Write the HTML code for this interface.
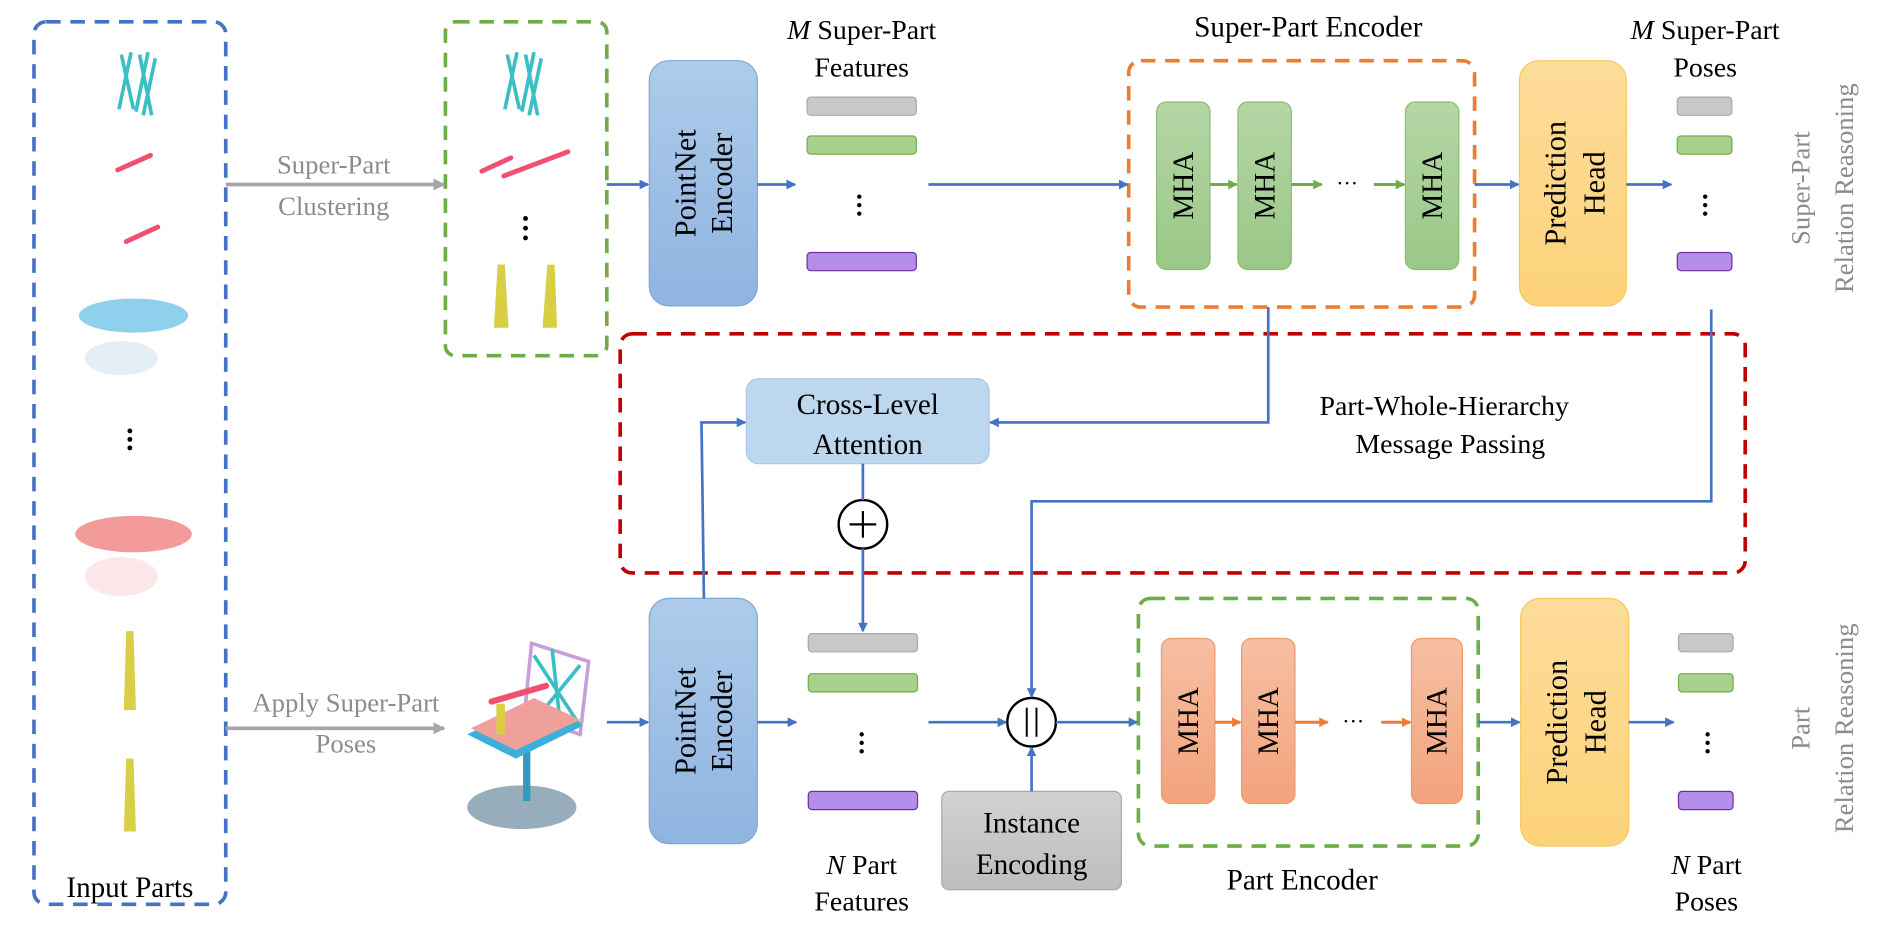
<!DOCTYPE html>
<html><head><meta charset="utf-8"><style>
html,body{margin:0;padding:0;background:#fff;}
svg{display:block}
text{font-family:"Liberation Serif",serif;}
</style></head><body>
<svg width="1903" height="931" viewBox="0 0 1568 767" preserveAspectRatio="none" xmlns="http://www.w3.org/2000/svg">
<defs>
<linearGradient id="gb" x1="0" y1="0" x2="0" y2="1"><stop offset="0" stop-color="#aecbea"/><stop offset="1" stop-color="#8fb4e0"/></linearGradient>
<linearGradient id="gy" x1="0" y1="0" x2="0" y2="1"><stop offset="0" stop-color="#fddc9a"/><stop offset="1" stop-color="#fdd37a"/></linearGradient>
<linearGradient id="gg" x1="0" y1="0" x2="0" y2="1"><stop offset="0" stop-color="#b5d6a6"/><stop offset="1" stop-color="#9ac787"/></linearGradient>
<linearGradient id="go" x1="0" y1="0" x2="0" y2="1"><stop offset="0" stop-color="#f6bfa3"/><stop offset="1" stop-color="#f2a37c"/></linearGradient>
<linearGradient id="ggr" x1="0" y1="0" x2="0" y2="1"><stop offset="0" stop-color="#d2d2d2"/><stop offset="1" stop-color="#bdbdbd"/></linearGradient>
<marker id="ab" markerWidth="8" markerHeight="8" refX="7" refY="4" orient="auto" markerUnits="userSpaceOnUse"><path d="M0,0 L8,4 L0,8 z" fill="#4472c4"/></marker>
<marker id="ag" markerWidth="8" markerHeight="8" refX="7" refY="4" orient="auto" markerUnits="userSpaceOnUse"><path d="M0,0 L8,4 L0,8 z" fill="#70ad47"/></marker>
<marker id="ao" markerWidth="8" markerHeight="8" refX="7" refY="4" orient="auto" markerUnits="userSpaceOnUse"><path d="M0,0 L8,4 L0,8 z" fill="#ed7d31"/></marker>
<marker id="agr" markerWidth="10" markerHeight="10" refX="9" refY="5" orient="auto" markerUnits="userSpaceOnUse"><path d="M0,0 L10,5 L0,10 z" fill="#a6a6a6"/></marker>
</defs>

<rect x="28" y="18" width="158" height="727" rx="10" fill="none" stroke="#4472c4" stroke-width="3" stroke-dasharray="12,8"/>
<rect x="367" y="18" width="133" height="275" rx="8" fill="none" stroke="#70ad47" stroke-width="3" stroke-dasharray="12,8"/>
<rect x="930" y="50" width="285" height="203" rx="10" fill="none" stroke="#ed7d31" stroke-width="3" stroke-dasharray="12,8"/>
<rect x="511" y="275" width="927" height="197" rx="10" fill="none" stroke="#c00000" stroke-width="3" stroke-dasharray="12,8"/>
<rect x="938" y="493" width="280" height="204" rx="10" fill="none" stroke="#70ad47" stroke-width="3" stroke-dasharray="12,8"/>

<g stroke="#3bbfc4" stroke-width="3" fill="none">
<path d="M100,45 L110,90 M108,43 L98,90 M115,45 L125,95 M122,43 L112,92 M128,48 L118,95"/>
<path d="M418,45 L428,90 M426,43 L416,90 M433,45 L443,95 M440,43 L430,92 M446,48 L436,95"/>
</g>
<g stroke="#f05070" stroke-width="4" stroke-linecap="round">
<line x1="97" y1="140" x2="124" y2="128"/>
<line x1="104" y1="199" x2="130" y2="187"/>
<line x1="397" y1="141" x2="421" y2="130"/>
<line x1="415" y1="145" x2="468" y2="125"/>
</g>
<ellipse cx="110" cy="260" rx="45" ry="14" fill="#8fd0ec"/>
<ellipse cx="100" cy="295" rx="30" ry="14" fill="#e4eef5"/>
<ellipse cx="110" cy="440" rx="48" ry="15" fill="#f39a9a"/>
<ellipse cx="100" cy="475" rx="30" ry="16" fill="#fbe7e9"/>
<path d="M104,520 L110,520 L112,585 L102,585 z" fill="#d9cf45"/>
<path d="M104,625 L110,625 L112,685 L102,685 z" fill="#d9cf45"/>
<path d="M410,218 L416,218 L419,270 L407,270 z" fill="#d9cf45"/>
<path d="M451,218 L457,218 L459,270 L447,270 z" fill="#d9cf45"/>
<g fill="#000"><circle cx="107" cy="355" r="2"/><circle cx="107" cy="362" r="2"/><circle cx="107" cy="369" r="2"/>
<circle cx="433" cy="180" r="2"/><circle cx="433" cy="188" r="2"/><circle cx="433" cy="196" r="2"/></g>
<ellipse cx="430" cy="665" rx="45" ry="18" fill="#6c8aa0" opacity="0.7"/>
<rect x="431" y="610" width="6" height="50" fill="#3399c0"/>
<polygon points="438,530 485,545 478,605 432,590" fill="none" stroke="#c8a0d8" stroke-width="3"/>
<path d="M440,540 L478,598 M478,548 L442,592 M455,535 L462,600" stroke="#3bbfc4" stroke-width="3"/>
<polygon points="385,605 440,578 480,598 425,625" fill="#3cb0d8"/>
<polygon points="388,600 440,575 478,593 425,618" fill="#f0a09a"/>
<line x1="405" y1="578" x2="450" y2="565" stroke="#f05070" stroke-width="5" stroke-linecap="round"/>
<rect x="409" y="580" width="7" height="25" fill="#d9cf45"/>

<g fill="#8c8c8c" font-size="22" text-anchor="middle">
<text x="275" y="143">Super-Part</text><text x="275" y="177">Clustering</text>
<text x="285" y="586">Apply Super-Part</text><text x="285" y="620">Poses</text>
</g>
<line x1="186" y1="152" x2="366" y2="152" stroke="#a6a6a6" stroke-width="3" marker-end="url(#agr)"/>
<line x1="186" y1="600" x2="366" y2="600" stroke="#a6a6a6" stroke-width="3" marker-end="url(#agr)"/>

<rect x="535" y="50" width="89" height="202" rx="16" fill="url(#gb)" stroke="#7fa7d8"/>
<rect x="535" y="493" width="89" height="202" rx="16" fill="url(#gb)" stroke="#7fa7d8"/>
<g font-size="25" text-anchor="middle" fill="#000">
<text transform="translate(573,151) rotate(-90)">PointNet</text>
<text transform="translate(603,151) rotate(-90)">Encoder</text>
<text transform="translate(573,594) rotate(-90)">PointNet</text>
<text transform="translate(603,594) rotate(-90)">Encoder</text>
</g>

<rect x="665" y="80" width="90" height="15" rx="3" fill="#c8c8c8" stroke="#aaa"/>
<rect x="665" y="112" width="90" height="15" rx="3" fill="#a9d18e" stroke="#70ad47"/>
<rect x="665" y="208" width="90" height="15" rx="3" fill="#b48ee8" stroke="#7030a0"/>
<rect x="666" y="522" width="90" height="15" rx="3" fill="#c8c8c8" stroke="#aaa"/>
<rect x="666" y="555" width="90" height="15" rx="3" fill="#a9d18e" stroke="#70ad47"/>
<rect x="666" y="652" width="90" height="15" rx="3" fill="#b48ee8" stroke="#7030a0"/>
<rect x="1382" y="80" width="45" height="15" rx="3" fill="#c8c8c8" stroke="#aaa"/>
<rect x="1382" y="112" width="45" height="15" rx="3" fill="#a9d18e" stroke="#70ad47"/>
<rect x="1382" y="208" width="45" height="15" rx="3" fill="#b48ee8" stroke="#7030a0"/>
<rect x="1383" y="522" width="45" height="15" rx="3" fill="#c8c8c8" stroke="#aaa"/>
<rect x="1383" y="555" width="45" height="15" rx="3" fill="#a9d18e" stroke="#70ad47"/>
<rect x="1383" y="652" width="45" height="15" rx="3" fill="#b48ee8" stroke="#7030a0"/>
<g fill="#000"><circle cx="708" cy="162" r="1.8"/><circle cx="708" cy="169" r="1.8"/><circle cx="708" cy="176" r="1.8"/>
<circle cx="710" cy="605" r="1.8"/><circle cx="710" cy="612" r="1.8"/><circle cx="710" cy="619" r="1.8"/>
<circle cx="1405" cy="162" r="1.8"/><circle cx="1405" cy="169" r="1.8"/><circle cx="1405" cy="176" r="1.8"/>
<circle cx="1407" cy="605" r="1.8"/><circle cx="1407" cy="612" r="1.8"/><circle cx="1407" cy="619" r="1.8"/></g>

<g fill="url(#gg)" stroke="#8bbd72">
<rect x="953" y="84" width="44" height="138" rx="8"/><rect x="1020" y="84" width="44" height="138" rx="8"/><rect x="1158" y="84" width="44" height="138" rx="8"/></g>
<g fill="url(#go)" stroke="#eb9a6e">
<rect x="957" y="526" width="44" height="136" rx="8"/><rect x="1023" y="526" width="44" height="136" rx="8"/><rect x="1163" y="526" width="42" height="136" rx="8"/></g>
<g font-size="24" text-anchor="middle">
<text transform="translate(983,153) rotate(-90)">MHA</text>
<text transform="translate(1050,153) rotate(-90)">MHA</text>
<text transform="translate(1188,153) rotate(-90)">MHA</text>
<text transform="translate(987,594) rotate(-90)">MHA</text>
<text transform="translate(1053,594) rotate(-90)">MHA</text>
<text transform="translate(1192,594) rotate(-90)">MHA</text>
<text x="1110" y="157" font-size="18">···</text>
<text x="1115" y="600" font-size="18">···</text>
</g>
<g stroke-width="2.5">
<line x1="997" y1="152" x2="1019" y2="152" stroke="#70ad47" marker-end="url(#ag)"/>
<line x1="1064" y1="152" x2="1089" y2="152" stroke="#70ad47" marker-end="url(#ag)"/>
<line x1="1132" y1="152" x2="1157" y2="152" stroke="#70ad47" marker-end="url(#ag)"/>
<line x1="1001" y1="595" x2="1022" y2="595" stroke="#ed7d31" marker-end="url(#ao)"/>
<line x1="1067" y1="595" x2="1094" y2="595" stroke="#ed7d31" marker-end="url(#ao)"/>
<line x1="1138" y1="595" x2="1162" y2="595" stroke="#ed7d31" marker-end="url(#ao)"/>
</g>

<rect x="1252" y="50" width="88" height="202" rx="16" fill="url(#gy)" stroke="#f7c85a"/>
<rect x="1253" y="493" width="89" height="204" rx="16" fill="url(#gy)" stroke="#f7c85a"/>
<g font-size="25" text-anchor="middle">
<text transform="translate(1290,151) rotate(-90)">Prediction</text>
<text transform="translate(1322,151) rotate(-90)">Head</text>
<text transform="translate(1291,595) rotate(-90)">Prediction</text>
<text transform="translate(1323,595) rotate(-90)">Head</text>
</g>

<rect x="615" y="312" width="200" height="70" rx="10" fill="#bdd7ee" stroke="#a9c8e6"/>
<text x="715" y="341" font-size="24" text-anchor="middle">Cross-Level</text>
<text x="715" y="374" font-size="24" text-anchor="middle">Attention</text>
<circle cx="711" cy="432" r="20" fill="#fff" stroke="#000" stroke-width="2"/>
<line x1="700" y1="432" x2="722" y2="432" stroke="#000" stroke-width="1.8"/><line x1="711" y1="421" x2="711" y2="443" stroke="#000" stroke-width="1.8"/>
<circle cx="850" cy="595" r="20" fill="#fff" stroke="#000" stroke-width="2"/>
<line x1="846" y1="583" x2="846" y2="607" stroke="#000" stroke-width="1.6"/><line x1="854" y1="583" x2="854" y2="607" stroke="#000" stroke-width="1.6"/>

<rect x="776" y="652" width="148" height="81" rx="6" fill="url(#ggr)" stroke="#aaa"/>
<text x="850" y="686" font-size="24" text-anchor="middle">Instance</text>
<text x="850" y="720" font-size="24" text-anchor="middle">Encoding</text>

<g stroke="#4472c4" stroke-width="2.2" fill="none">
<line x1="500" y1="152" x2="534" y2="152" marker-end="url(#ab)"/>
<line x1="624" y1="152" x2="655" y2="152" marker-end="url(#ab)"/>
<line x1="765" y1="152" x2="929" y2="152" marker-end="url(#ab)"/>
<line x1="1215" y1="152" x2="1251" y2="152" marker-end="url(#ab)"/>
<line x1="1340" y1="152" x2="1377" y2="152" marker-end="url(#ab)"/>
<line x1="500" y1="595" x2="534" y2="595" marker-end="url(#ab)"/>
<line x1="624" y1="595" x2="656" y2="595" marker-end="url(#ab)"/>
<line x1="765" y1="595" x2="829" y2="595" marker-end="url(#ab)"/>
<line x1="870" y1="595" x2="937" y2="595" marker-end="url(#ab)"/>
<line x1="1218" y1="595" x2="1252" y2="595" marker-end="url(#ab)"/>
<line x1="1342" y1="595" x2="1379" y2="595" marker-end="url(#ab)"/>
<polyline points="1045,253 1045,348 816,348" marker-end="url(#ab)"/>
<polyline points="580,493 578,348 614,348" marker-end="url(#ab)"/>
<line x1="711" y1="382" x2="711" y2="412"/>
<line x1="711" y1="452" x2="711" y2="520" marker-end="url(#ab)"/>
<polyline points="1410,255 1410,413 850,413 850,574" marker-end="url(#ab)"/>
<line x1="850" y1="652" x2="850" y2="616" marker-end="url(#ab)"/>
</g>

<g font-size="23" text-anchor="middle" fill="#000">
<text x="710" y="32"><tspan font-style="italic">M</tspan> Super-Part</text>
<text x="710" y="63">Features</text>
<text x="1078" y="30" font-size="24">Super-Part Encoder</text>
<text x="1405" y="32"><tspan font-style="italic">M</tspan> Super-Part</text>
<text x="1405" y="63">Poses</text>
<text x="1190" y="342">Part-Whole-Hierarchy</text>
<text x="1195" y="373">Message Passing</text>
<text x="710" y="720"><tspan font-style="italic">N</tspan> Part</text>
<text x="710" y="750">Features</text>
<text x="1073" y="733" font-size="24">Part Encoder</text>
<text x="1406" y="720"><tspan font-style="italic">N</tspan> Part</text>
<text x="1406" y="750">Poses</text>
<text x="107" y="739" font-size="24">Input Parts</text>
</g>
<g font-size="22" text-anchor="middle" fill="#8c8c8c">
<text transform="translate(1491,155) rotate(-90)">Super-Part</text>
<text transform="translate(1527,155) rotate(-90)">Relation Reasoning</text>
<text transform="translate(1491,600) rotate(-90)">Part</text>
<text transform="translate(1527,600) rotate(-90)">Relation Reasoning</text>
</g>
</svg>
</body></html>
